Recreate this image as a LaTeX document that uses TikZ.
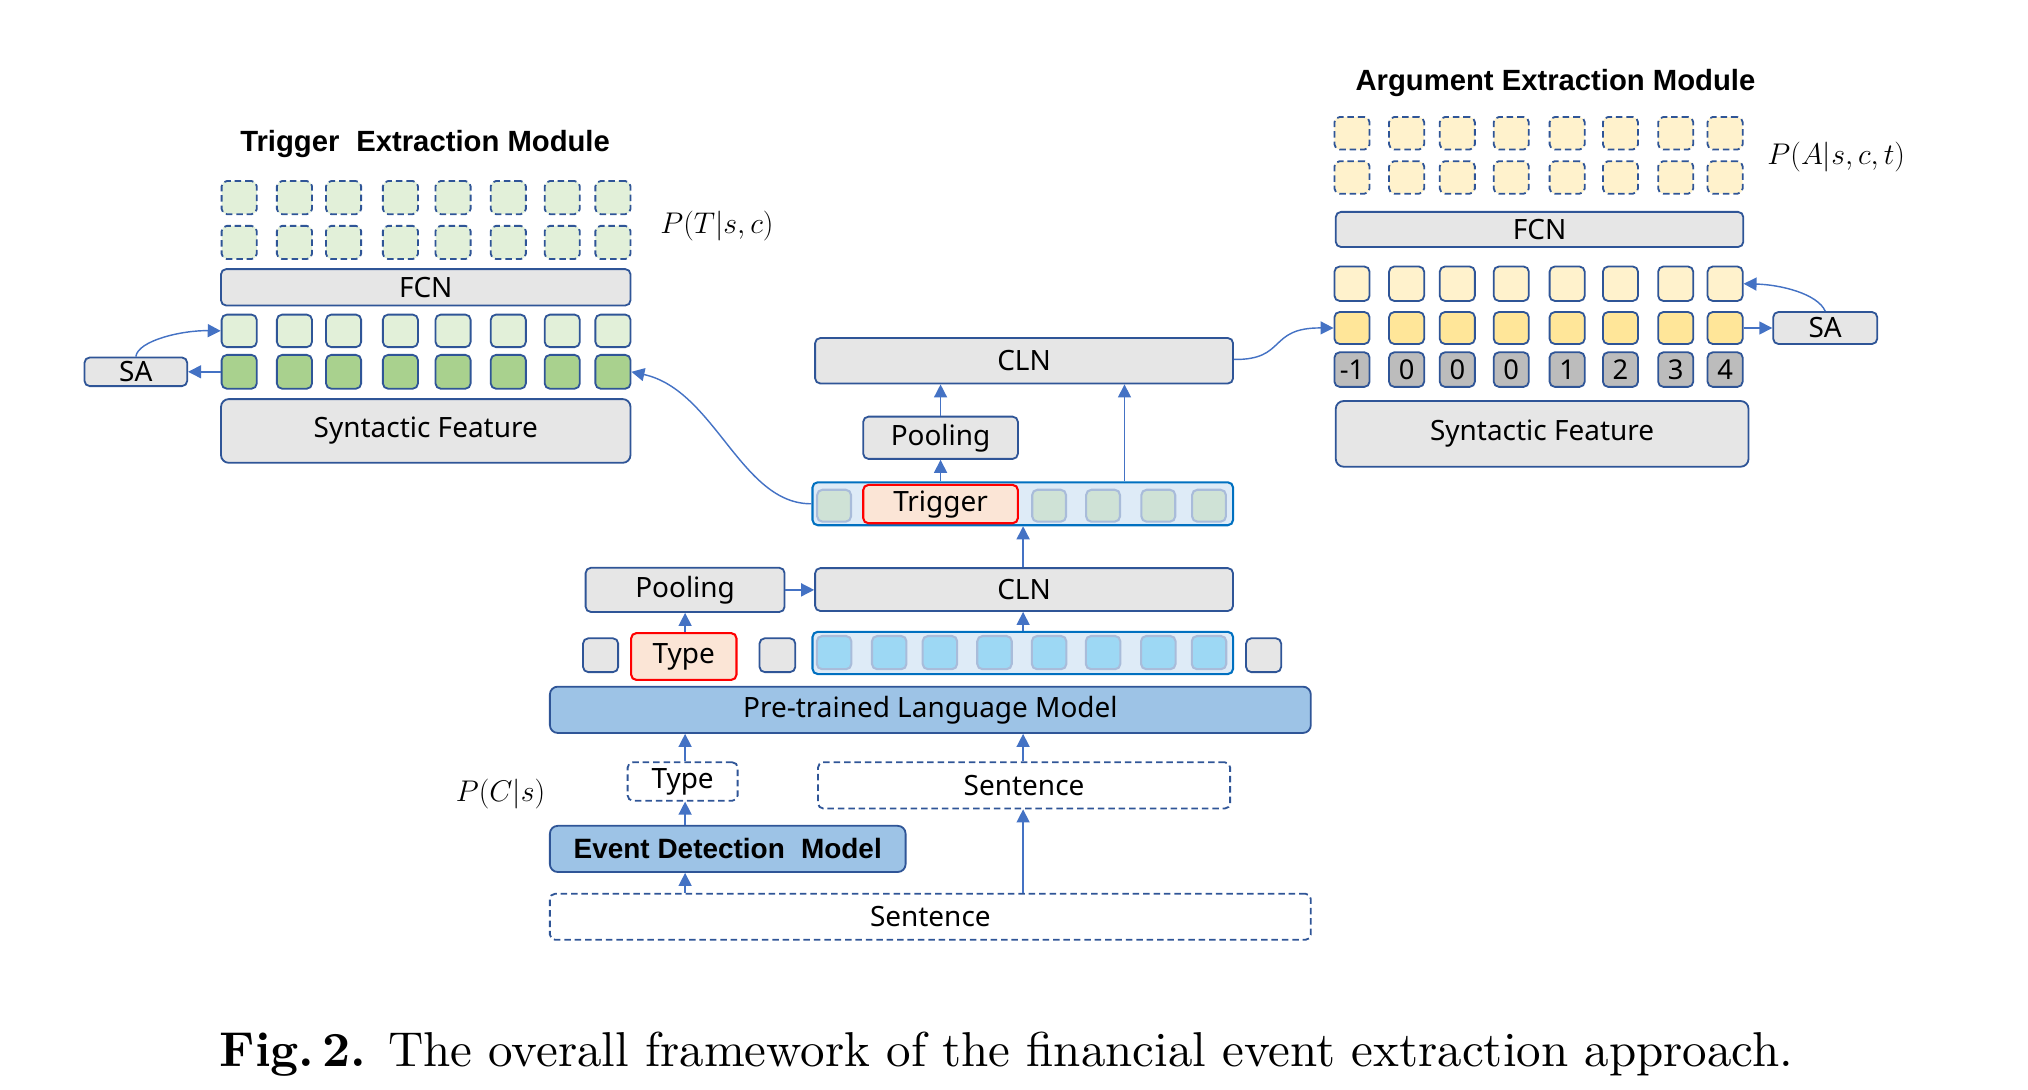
\RequirePackage{fix-cm}
\documentclass[tikz,border=0pt]{standalone}
\usepackage{fontspec}
\newfontfamily\labfont{Noto Sans}
\newfontfamily\ttlfont{Liberation Sans}
\usetikzlibrary{arrows.meta}
\definecolor{dkb}{HTML}{2F5597}
\definecolor{lgray}{HTML}{E6E6E6}
\definecolor{arrc}{HTML}{4472C4}
\definecolor{lgreen}{HTML}{E2F0D9}
\definecolor{dgreen}{HTML}{A9D18E}
\definecolor{lyel}{HTML}{FFF2CC}
\definecolor{dyel}{HTML}{FFE699}
\definecolor{numg}{HTML}{BCBCBC}
\definecolor{barfill}{HTML}{DEEBF7}
\definecolor{barline}{HTML}{0070C0}
\definecolor{ingreen}{HTML}{CFE2D6}
\definecolor{inedge}{HTML}{A9BCDA}
\definecolor{inblue}{HTML}{9DD8F4}
\definecolor{redfill}{HTML}{FBE5D6}
\definecolor{plmblue}{HTML}{9DC3E6}
\tikzset{
  lab/.style={font=\labfont\fontsize{21.5}{24}\selectfont},
  basebox/.style={draw=dkb, line width=1.4pt, rounded corners=4pt, inner sep=0pt, lab},
  gbox/.style={basebox, fill=lgray},
  bigbox/.style={gbox, rounded corners=6pt},
  dashbox/.style={basebox, dash pattern=on 5pt off 3pt},
  cellT/.style={dashbox, fill=lgreen, minimum width=27, minimum height=25.5},
  cellA/.style={dashbox, fill=lyel, minimum width=27, minimum height=25},
  lgcell/.style={basebox, fill=lgreen, minimum width=27, minimum height=25},
  dgcell/.style={basebox, fill=dgreen, minimum width=27, minimum height=26},
  lycell/.style={basebox, fill=lyel, minimum width=27, minimum height=26.5},
  dycell/.style={basebox, fill=dyel, minimum width=27, minimum height=24.6},
  numcell/.style={basebox, fill=numg, minimum width=27, minimum height=26.6, font=\labfont\fontsize{21}{24}\selectfont},
  barbox/.style={draw=barline, fill=barfill, line width=1.6pt, rounded corners=4pt, inner sep=0pt},
  ingcell/.style={draw=inedge, fill=ingreen, line width=1.6pt, rounded corners=4pt, inner sep=0pt, minimum width=26, minimum height=24.5},
  inbcell/.style={draw=inedge, fill=inblue, line width=1.6pt, rounded corners=4pt, inner sep=0pt, minimum width=26.5, minimum height=25.5},
  redbox/.style={draw=red, fill=redfill, line width=1.6pt, rounded corners=4pt, inner sep=0pt, lab},
  bluebox/.style={basebox, fill=plmblue, rounded corners=6pt},
  ttl/.style={font=\ttlfont\bfseries\fontsize{22.5}{26}\selectfont, inner sep=0pt},
  mathlab/.style={font=\fontsize{23}{27}\selectfont, inner sep=0pt},
  arr/.style={draw=arrc, line width=1.1pt, -{Triangle[width=10pt,length=10pt]}},
}
\begin{document}
\begin{tikzpicture}[x=1pt, y=-1pt]
\useasboundingbox (0,0) rectangle (1560,838.4);

% ---------------- Trigger Extraction Module ----------------
\node[ttl] (ttlT) at (327,111) {Trigger\hspace{0.3em} Extraction Module};
\foreach \x [count=\i] in {184,226.5,264.3,308,348.5,391,432.5,471.5} {
  \node[cellT] (ta\i) at (\x,152) {};
  \node[cellT] (tb\i) at (\x,186.5) {};
  \node[lgcell] (lg\i) at (\x,254.5) {};
  \node[dgcell] (dg\i) at (\x,286) {};
}
\node[gbox, minimum width=315, minimum height=28] (fcnT) at (327.5,221) {FCN};
\node[gbox, minimum width=79, minimum height=22] (saT) at (104.5,286) {SA};
\node[bigbox, minimum width=315, minimum height=49] (synT) at (327.5,331.5) {Syntactic Feature};
\node[mathlab] (pT) at (551.5,174) {$P(T|s,c)$};

% ---------------- Central column ----------------
\node[gbox, minimum width=321.5, minimum height=35] (clnT) at (787.75,277.5) {CLN};
\node[gbox, minimum width=119, minimum height=32.5] (poolT) at (723.5,336.75) {Pooling};
\node[barbox, minimum width=323.5, minimum height=33] (trigbar) at (786.75,387.5) {};
\node[redbox, minimum width=119, minimum height=29.5] (trig) at (723.5,387.75) {Trigger};
\foreach \x [count=\i] in {641.6,807,848.5,891,930} {
  \node[ingcell] (tg\i) at (\x,389) {};
}
\node[gbox, minimum width=321.5, minimum height=33] (clnL) at (787.75,453.5) {CLN};
\node[gbox, minimum width=153, minimum height=34] (poolL) at (527,453.75) {Pooling};
\node[gbox, minimum width=27, minimum height=26] (gl) at (462,504) {};
\node[redbox, minimum width=81, minimum height=36] (typeR) at (526,505) {Type};
\node[gbox, minimum width=27.5, minimum height=26] (gm) at (598,504) {};
\node[barbox, minimum width=323.5, minimum height=32.5] (bluebar) at (786.75,502.25) {};
\foreach \x [count=\i] in {641.6,684,723,765,807,848.5,891,930} {
  \node[inbcell] (bb\i) at (\x,502) {};
}
\node[gbox, minimum width=27, minimum height=26] (gr) at (972,504) {};
\node[bluebox, minimum width=585.3, minimum height=35.6] (plm) at (715.65,546) {Pre-trained Language Model};
\node[dashbox, minimum width=84.6, minimum height=29.5] (typeD) at (525.1,601.15) {Type};
\node[dashbox, minimum width=317, minimum height=35.5] (sentU) at (787.75,604.15) {Sentence};
\node[mathlab] (pC) at (385,610.5) {$P(C|s)$};
\node[bluebox, minimum width=273.6, minimum height=35.5, font=\ttlfont\bfseries\fontsize{21.5}{24}\selectfont] (edm) at (559.8,653) {Event Detection\hspace{0.3em} Model};
\node[dashbox, minimum width=585.3, minimum height=35.4] (sentL) at (715.65,705.2) {Sentence};

% ---------------- Argument Extraction Module ----------------
\node[ttl] (ttlA) at (1196.5,64) {Argument Extraction Module};
\foreach \x/\n [count=\i] in {1040/-1,1082/0,1121/0,1162.5/0,1205.5/1,1246.5/2,1289/3,1327/4} {
  \node[cellA] (aa\i) at (\x,102.5) {};
  \node[cellA] (ab\i) at (\x,136.5) {};
  \node[lycell] (aly\i) at (\x,218.25) {};
  \node[dycell] (ady\i) at (\x,252.3) {};
  \node[numcell] (an\i) at (\x,284.3) {\n};
}
\node[gbox, minimum width=313.5, minimum height=27] (fcnA) at (1184.25,176.5) {FCN};
\node[bigbox, minimum width=317.5, minimum height=50.5] (synA) at (1186.25,333.75) {Syntactic Feature};
\node[gbox, minimum width=80, minimum height=24.6] (saA) at (1404,252.3) {SA};
\node[mathlab] (pA) at (1412.5,120.8) {$P(A|s,c,t)$};

% ---------------- Connectors ----------------
\coordinate (c1) at (527,0);
\draw[arr] (sentL.north -| c1) -- (edm.south -| c1);
\draw[arr] (edm.north -| c1) -- (typeD.south -| c1);
\draw[arr] (typeD.north -| c1) -- (plm.south -| c1);
\draw[arr] (typeR.north -| c1) -- (poolL.south -| c1);
\coordinate (c2) at (787,0);
\draw[arr] (sentL.north -| c2) -- (sentU.south -| c2);
\draw[arr] (sentU.north -| c2) -- (plm.south -| c2);
\draw[arr] (bluebar.north -| c2) -- (clnL.south -| c2);
\draw[arr] (clnL.north -| c2) -- (trigbar.south -| c2);
\draw[arr] (poolL.east) -- (clnL.west |- poolL.east);
\coordinate (c3) at (723.5,0);
\draw[arr] (trigbar.north -| c3) -- (poolT.south -| c3);
\draw[arr] (poolT.north -| c3) -- (clnT.south -| c3);
\coordinate (c4) at (865,0);
\draw[arr] (trigbar.north -| c4) -- (clnT.south -| c4);
\draw[arr] (trigbar.west) .. controls (570,388) and (550,300) .. (dg8.east);
\draw[arr] (dg1.west) -- (saT.east);
\draw[arr] (saT.north) .. controls (106,262) and (140,254) .. (lg1.west);
\draw[arr] ([yshift=1pt]clnT.east) .. controls (990,277) and (975,252) .. (ady1.west);
\draw[arr] (ady8.east) -- (saA.west);
\draw[arr] (saA.north) .. controls (1398,226) and (1370,219) .. (aly8.east);

% ---------------- Caption ----------------
\node[anchor=base west, inner sep=0pt] (cap) at (168.7,820) {\resizebox{1210pt}{!}{\fontsize{10}{12}\selectfont\textbf{Fig.\,2.} The overall framework of the financial event extraction approach.}};
\end{tikzpicture}
\end{document}
